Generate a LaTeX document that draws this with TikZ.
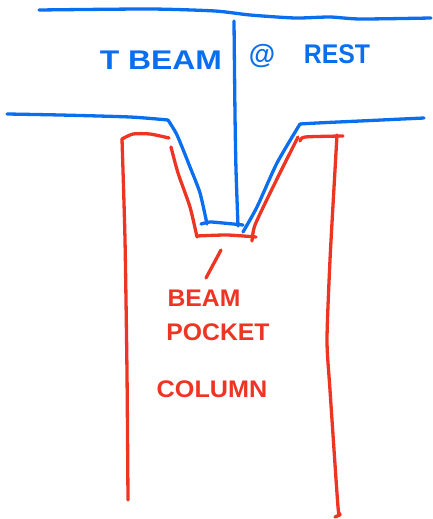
\documentclass[tikz,border=0pt]{standalone}
\usepackage{fontspec}
\setmainfont{Liberation Sans}
\usepackage{tikz}
\definecolor{penblue}{HTML}{0A6FEF}
\definecolor{penred}{HTML}{EE3524}
\tikzset{
	bluepen/.style={draw=penblue,line width=3.3pt,line cap=round,line join=round},
	redpen/.style={draw=penred,line width=3.3pt,line cap=round,line join=round},
	bluetext/.style={text=penblue,inner sep=0,font=\fontsize{27}{27}\selectfont\bfseries},
	redtext/.style={text=penred,inner sep=0,font=\fontsize{24}{24}\selectfont\bfseries}
}
\begin{document}
\begin{tikzpicture}[x=1pt,y=-1pt]
	\useasboundingbox (0,0) rectangle (432,519);
	
	%T BEAM
	\draw[bluepen] plot[smooth,tension=0.4] coordinates {(39,10) (150,9) (215,11) (250,15) (295,18) (330,17) (360,19) (431,18)};
	\draw[bluepen] plot[smooth,tension=0.4] coordinates {(234,21) (235,115) (236,170) (238,226)};
	\draw[bluepen] plot[smooth,tension=0.4] coordinates {(7,114) (60,115) (130,117) (168,120)};
	\draw[bluepen] plot[smooth,tension=0.4] coordinates {(168,120) (177,135) (190,167) (200,193) (207,224)};
	\draw[bluepen] plot[smooth,tension=0.4] coordinates {(201,224) (210,222) (223,223) (243,225)};
	\draw[bluepen] plot[smooth,tension=0.4] coordinates {(243,232) (257,207) (277,163) (300,124)};
	\draw[bluepen] plot[smooth,tension=0.4] coordinates {(300,124) (317,123) (360,121) (424,118)};
	
	%COLUMN
	\draw[redpen] plot[smooth,tension=0.4] coordinates {(122,139) (125,240) (127,373) (128,500)};
	\draw[redpen] plot[smooth,tension=0.4] coordinates {(122,139) (133,134) (150,134) (169,138)};
	\draw[redpen] plot[smooth,tension=0.4] coordinates {(337,135) (335,170) (330,260) (327,340) (330,390) (338,507) (340,514) (335,517)};
	\draw[redpen] plot[smooth,tension=0.4] coordinates {(300,141) (305,137) (343,136)};
	
	%POCKET
	\draw[redpen] plot[smooth,tension=0.4] coordinates {(171,147) (178,173) (190,207) (197,237)};
	\draw[redpen] plot[smooth,tension=0.4] coordinates {(197,236) (227,235) (256,237)};
	\draw[redpen] plot[smooth,tension=0.4] coordinates {(252,241) (255,225) (273,187) (298,137)};
	\draw[redpen] (221,250)--(206,278);
	
	%LABELS
	\node[bluetext,xscale=1.18] (beam) at (161,60) {T BEAM};
	\node[bluetext] (at) at (262,56) {@};
	\node[bluetext,xscale=0.92] (rest) at (337,54) {REST};
	\node[redtext,xscale=1.03] (pocketa) at (204,298) {BEAM};
	\node[redtext,xscale=1.03] (pocketb) at (218,332) {POCKET};
	\node[redtext,xscale=1.05] (col) at (212,389) {COLUMN};
\end{tikzpicture}
\end{document}
